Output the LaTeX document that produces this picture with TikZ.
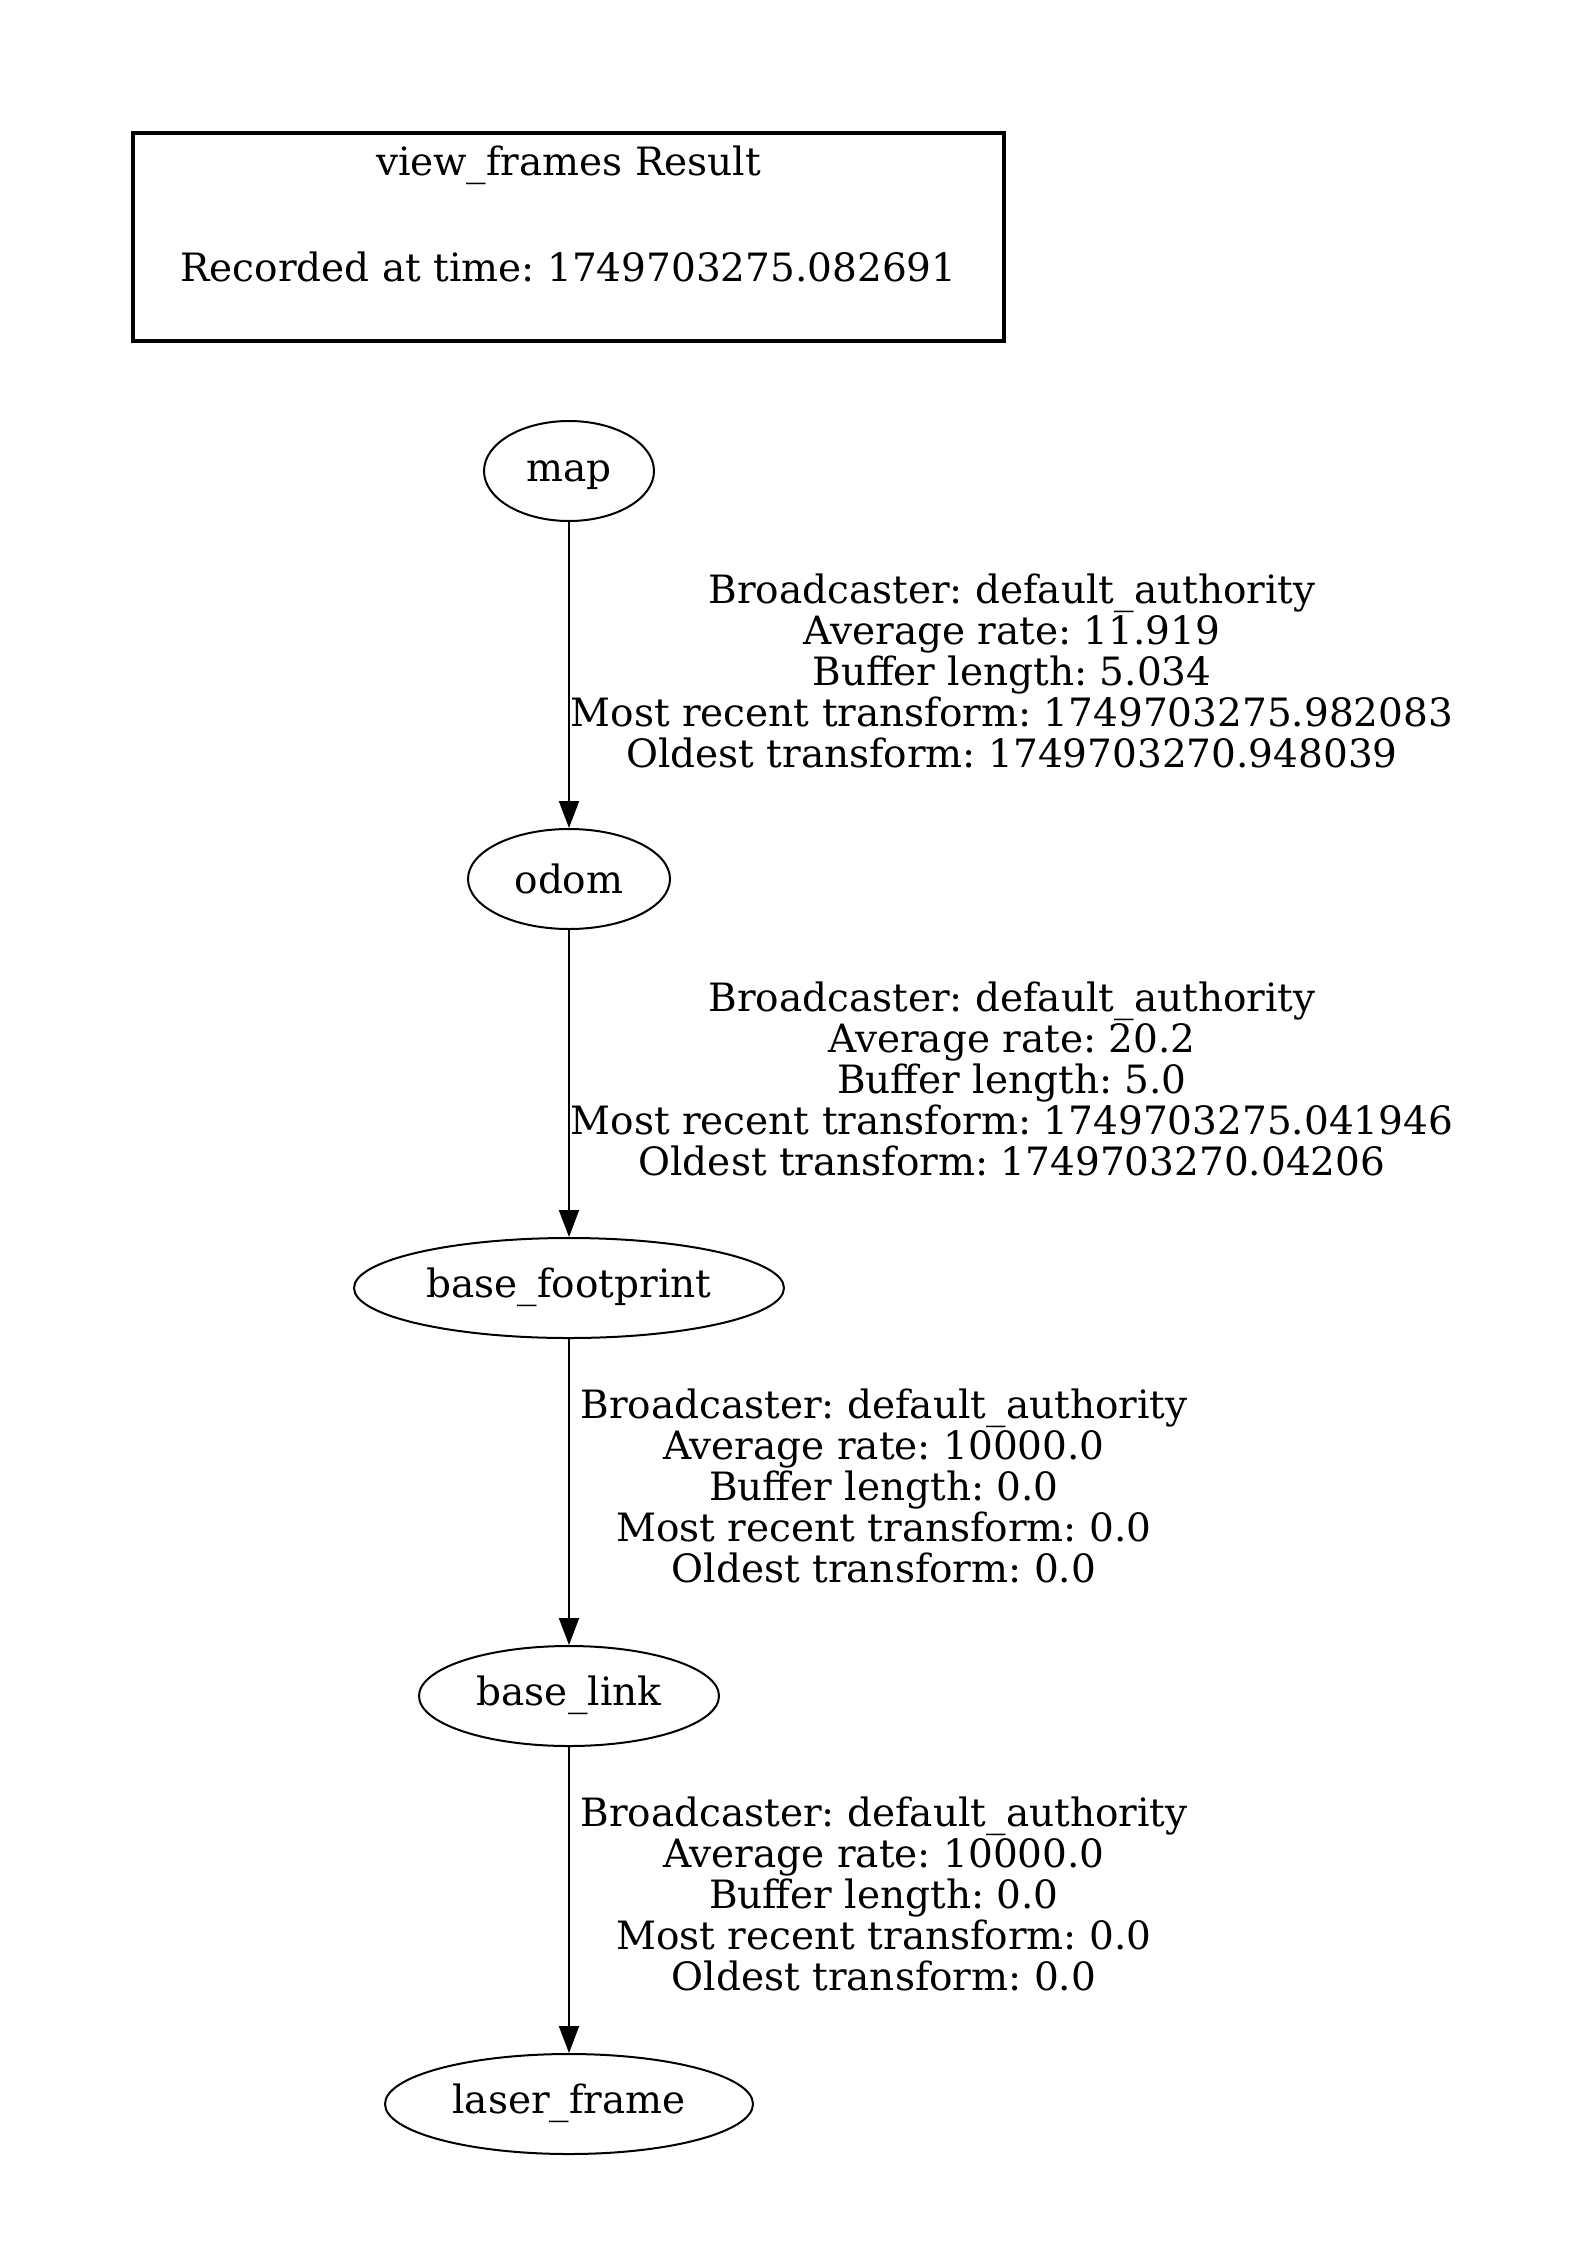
\documentclass[tikz,border=0pt]{standalone}
\usepackage{fontspec}
\setmainfont{DejaVu Serif}
\usetikzlibrary{shapes.geometric,arrows.meta}
\begin{document}
\frenchspacing
\begin{tikzpicture}[x=1pt,y=-1pt,
  frame/.style={ellipse,draw,line width=2pt,inner sep=0pt,text height=29pt,font=\fontsize{39}{41}\selectfont},
  lbl/.style={align=center,inner sep=0pt,font=\fontsize{39}{41}\selectfont},
  tf/.style={draw,line width=2pt,-{Triangle[length=27pt,width=20pt]}}]
\useasboundingbox (0,0) rectangle (1570,2267);
\node[draw,line width=4pt,minimum width=871pt,minimum height=208pt,inner sep=0pt] (res) at (568.5,237) {};
\node[lbl] (t1) at (568.5,165) {view\_frames Result};
\node[lbl] (t2) at (568.5,267) {Recorded at time: 1749703275.082691};
\node[frame,minimum width=170pt,minimum height=100pt] (map) at (569,471) {map};
\node[frame,minimum width=202pt,minimum height=100pt] (odom) at (569,879) {odom};
\node[frame,minimum width=430pt,minimum height=100pt] (bf) at (569,1288) {base\_footprint};
\node[frame,minimum width=300pt,minimum height=100pt] (bl) at (569,1696) {base\_link};
\node[frame,minimum width=368pt,minimum height=100pt] (lf) at (569,2104) {laser\_frame};
\draw[tf] (map) -- (odom);
\draw[tf] (odom) -- (bf);
\draw[tf] (bf) -- (bl);
\draw[tf] (bl) -- (lf);
\node[lbl] (l1) at (1012,671) {Broadcaster: default\_authority\\Average rate: 11.919\\Buffer length: 5.034\\Most recent transform: 1749703275.982083\\Oldest transform: 1749703270.948039};
\node[lbl] (l2) at (1012,1079) {Broadcaster: default\_authority\\Average rate: 20.2\\Buffer length: 5.0\\Most recent transform: 1749703275.041946\\Oldest transform: 1749703270.04206};
\node[lbl] (l3) at (884,1486) {Broadcaster: default\_authority\\Average rate: 10000.0\\Buffer length: 0.0\\Most recent transform: 0.0\\Oldest transform: 0.0};
\node[lbl] (l4) at (884,1894) {Broadcaster: default\_authority\\Average rate: 10000.0\\Buffer length: 0.0\\Most recent transform: 0.0\\Oldest transform: 0.0};
\end{tikzpicture}
\end{document}
